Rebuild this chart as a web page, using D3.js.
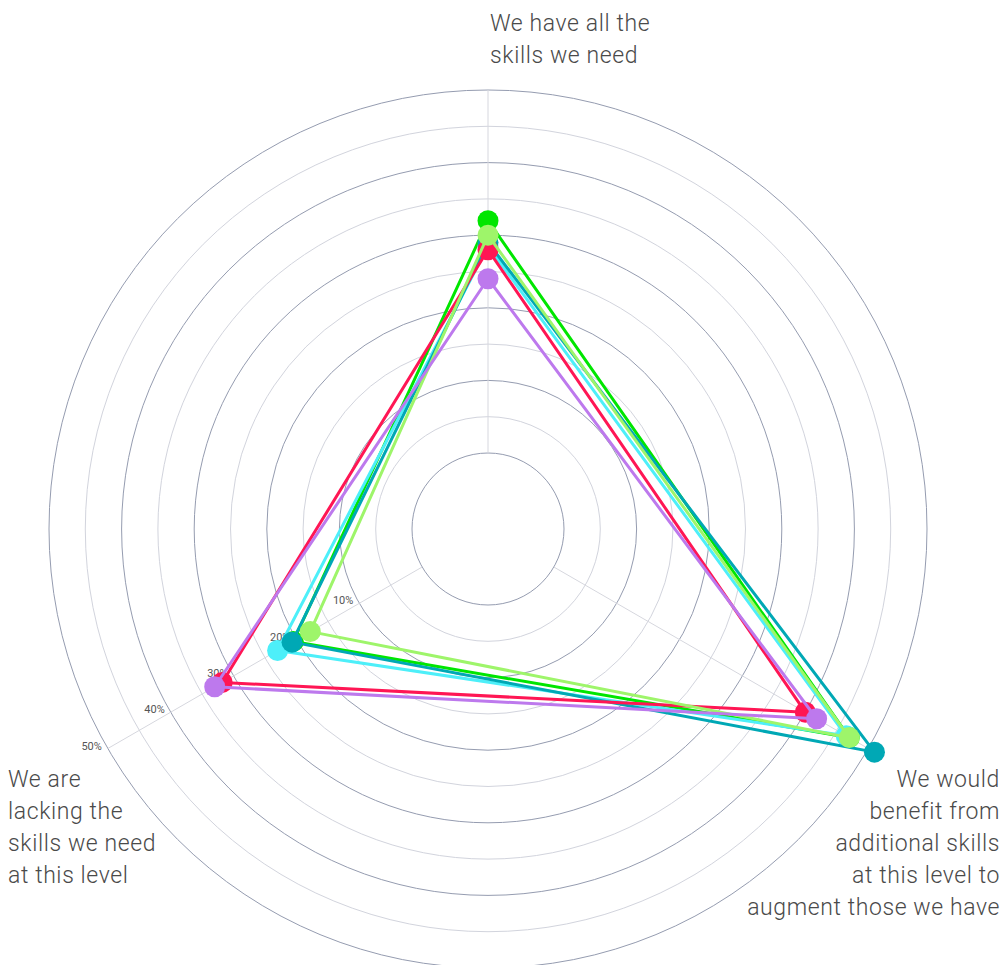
<!DOCTYPE html>
<html>
<head>
<meta charset="utf-8">
<script src="https://cdn.jsdelivr.net/npm/d3@7"></script>
<style>
  body { margin: 0; background: #fff; }
  svg { display: block; font-family: Roboto, "Noto Sans", sans-serif; }
  .axis-label { font-size: 23px; font-weight: 300; fill: #4a4a4a; letter-spacing: 0.6px; }
  .tick-label { font-size: 11px; fill: #555; }
</style>
</head>
<body>
<script>
var width = 1003,
    height = 965;

// axes, clockwise from the top
var categories = [
  ["We have all the", "skills we need"],
  ["We would", "benefit from", "additional skills", "at this level to", "augment those we have"],
  ["We are", "lacking the", "skills we need", "at this level"]
];

var ticks = [10, 20, 30, 40, 50];
var tickLabels = ["10%", "20%", "30%", "40%", "50%"];

// values in %, same order as categories
var seriesNames = ["Series 1", "Series 2", "Series 3", "Series 4", "Series 5", "Series 6"];
var seriesColors = ["#00e600", "#4deff9", "#00a8b5", "#ff1654", "#9ef56a", "#bd79ed"];
var series1 = [32, 47, 20.5];
var series2 = [28.5, 46.5, 23];
var series3 = [29, 51, 20.7];
var series4 = [28, 40, 31.8];
var series5 = [30, 47, 17.8];
var series6 = [24, 41.8, 33];
var seriesValues = [series1, series2, series3, series4, series5, series6];

var cx = 488, cy = 529;

var r = d3.scaleLinear()
    .domain([0, 50])
    .range([76, 439]);

var angle = d3.scaleLinear()
    .domain([0, categories.length])
    .range([0, 2 * Math.PI]);

function px(i, v) { return cx + r(v) * Math.sin(angle(i)); }
function py(i, v) { return cy - r(v) * Math.cos(angle(i)); }

var svg = d3.select("body").append("svg")
    .attr("width", width)
    .attr("height", height);

var g = svg.append("g");

// rings, dark every 10%, light in between
g.selectAll("circle.ring")
  .data(d3.range(0, 51, 5))
  .enter()
  .append("circle")
  .attr("class", "ring")
  .attr("cx", cx)
  .attr("cy", cy)
  .attr("r", function(d) { return r(d); })
  .attr("fill", "none")
  .attr("stroke", function(d) { return d % 10 === 0 ? "#959cb0" : "#d2d4dd"; })
  .attr("stroke-width", 1);

// spokes
g.selectAll("line.spoke")
  .data(categories)
  .enter()
  .append("line")
  .attr("class", "spoke")
  .attr("x1", function(d, i) { return px(i, 0); })
  .attr("y1", function(d, i) { return py(i, 0); })
  .attr("x2", function(d, i) { return px(i, 50); })
  .attr("y2", function(d, i) { return py(i, 50); })
  .attr("stroke", "#d6d7de")
  .attr("stroke-width", 1);

// tick labels along the lower-left spoke
g.selectAll("text.tick-label")
  .data(ticks)
  .enter()
  .append("text")
  .attr("class", "tick-label")
  .attr("x", function(d) { return px(2, d) - 6; })
  .attr("y", function(d) { return py(2, d) + 1; })
  .attr("text-anchor", "end")
  .text(function(d, i) { return tickLabels[i]; });

// series
var line = d3.lineRadial()
    .angle(function(d, i) { return angle(i); })
    .radius(function(d) { return r(d); })
    .curve(d3.curveLinearClosed);

var sg = g.selectAll("g.series")
  .data(seriesValues)
  .enter()
  .append("g")
  .attr("class", "series");

sg.append("path")
  .attr("transform", "translate(" + cx + "," + cy + ")")
  .attr("d", function(d) { return line(d); })
  .attr("fill", "none")
  .attr("stroke", function(d, i) { return seriesColors[i]; })
  .attr("stroke-width", 3)
  .attr("stroke-linejoin", "round");

sg.each(function(vals, s) {
  d3.select(this).selectAll("circle")
    .data(vals)
    .enter()
    .append("circle")
    .attr("cx", function(d, i) { return px(i, d); })
    .attr("cy", function(d, i) { return py(i, d); })
    .attr("r", 10.5)
    .attr("fill", seriesColors[s]);
});

// axis labels
var labelPos = [
  { x: 490, y: 31, anchor: "start" },
  { x: 1000, y: 787, anchor: "end" },
  { x: 8, y: 787, anchor: "start" }
];

svg.selectAll("text.axis-label")
  .data(categories)
  .enter()
  .append("text")
  .attr("class", "axis-label")
  .attr("x", function(d, i) { return labelPos[i].x; })
  .attr("y", function(d, i) { return labelPos[i].y; })
  .attr("text-anchor", function(d, i) { return labelPos[i].anchor; })
  .each(function(lines, i) {
    d3.select(this).selectAll("tspan")
      .data(lines)
      .enter()
      .append("tspan")
      .attr("x", labelPos[i].x)
      .attr("dy", function(d, j) { return j === 0 ? 0 : 32; })
      .text(function(d) { return d; });
  });
</script>
</body>
</html>
